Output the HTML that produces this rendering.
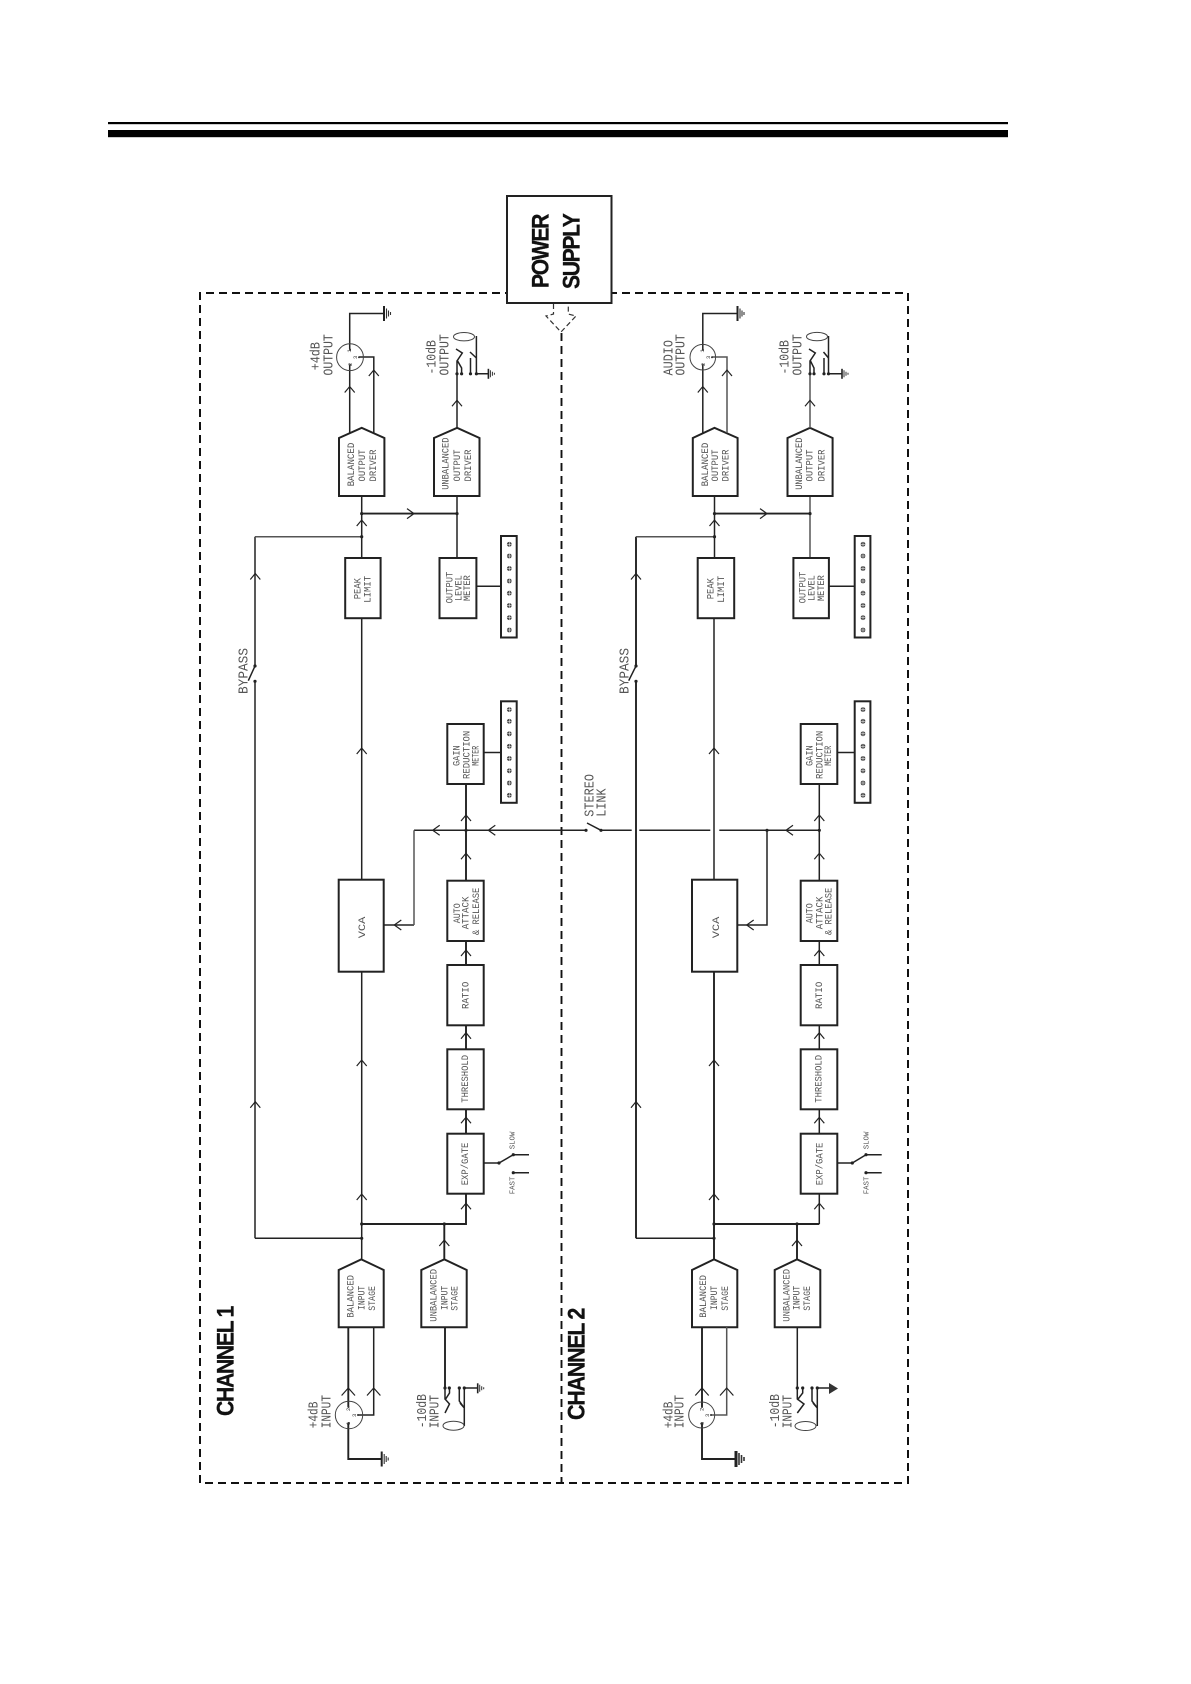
<!DOCTYPE html>
<html><head><meta charset="utf-8"><style>
html,body{margin:0;padding:0;background:#fff}
svg{display:block}
text{font-family:"Liberation Mono",monospace;fill:#555}
.b{font-family:"Liberation Sans",sans-serif;font-weight:bold;font-size:24px;fill:#111;stroke:#111;stroke-width:.3;letter-spacing:-1.5px}
.s{font-size:10.5px}.m{font-size:13.5px}.t{font-size:7px}.d{font-size:5.5px;fill:#333}
.l{fill:none;stroke:#222;stroke-width:1.5}
.q{fill:none;stroke:#555;stroke-width:1.5}
.k{fill:none;stroke:#222;stroke-width:1.9}
.h{fill:#fff;stroke:#222;stroke-width:2}
.a{fill:none;stroke:#222;stroke-width:1.2}
</style></head><body>
<svg width="1191" height="1684" viewBox="0 0 1191 1684" xmlns="http://www.w3.org/2000/svg">
<defs>
<path id="u" class="a" d="M-5 6L0 0L5 6"/>
<path id="U" class="a" d="M-6.7 7.5L0 0L6.7 7.5"/>
<path id="w" class="a" d="M7-5L0 0L7 5"/>
<path id="r" class="a" d="M-7-5L0 0L-7 5"/>
<circle id="p" r="1.6" fill="#222"/>
<circle id="e" r="1" fill="#333"/>
<g id="o"><circle r="2.4" fill="#444"/><path d="M-2.4 0H2.4M0-2.4V2.4" stroke="#fff" stroke-width=".5"/></g>
<g id="mt"><rect class="h" width="15.7" height="101.5"/>
<use href="#o" x="8.3" y="8.3"/><use href="#o" x="8.3" y="20"/><use href="#o" x="8.3" y="32.5"/><use href="#o" x="8.3" y="45"/><use href="#o" x="8.3" y="57.2"/><use href="#o" x="8.3" y="69.5"/><use href="#o" x="8.3" y="81.7"/><use href="#o" x="8.3" y="94"/></g>
<g id="gr"><path d="M0-7.5V7.5" stroke="#222" stroke-width="2"/><path d="M2.5-5V5M4.5-3V3M6.5-1.5V1.5" stroke="#333" stroke-width="1.1"/></g>
<g id="gs"><path d="M0-5V5" stroke="#222" stroke-width="1.6"/><path d="M2-3.5V3.5M4-2V2M6-1V1" stroke="#333" stroke-width="1"/></g>
</defs>

<rect x="108" y="122" width="900" height="2.2" fill="#000"/>
<rect x="108" y="130" width="900" height="7.2" fill="#000"/>

<!-- dashed frame -->
<path d="M200 1483V293H908V1483H200" fill="none" stroke="#111" stroke-width="2" stroke-dasharray="8 5"/>
<path d="M561.5 333V1483" fill="none" stroke="#111" stroke-width="1.9" stroke-dasharray="8 5"/>
<!-- power -->
<rect class="h" x="507" y="196" width="104.5" height="107"/>
<path d="M553.5 304V314L546 316L561 332L576 316L568.3 314V304" fill="none" stroke="#333" stroke-width="1.2" stroke-dasharray="5 3"/>
<text class="b" transform="translate(548.5,288) rotate(-90)" textLength="73" lengthAdjust="spacingAndGlyphs">POWER</text>
<text class="b" transform="translate(579.5,289) rotate(-90)" textLength="74.5" lengthAdjust="spacingAndGlyphs">SUPPLY</text>
<text class="b" transform="translate(233.3,1416) rotate(-90)" textLength="109" lengthAdjust="spacingAndGlyphs">CHANNEL 1</text>
<text class="b" transform="translate(584.3,1420) rotate(-90)" textLength="111" lengthAdjust="spacingAndGlyphs">CHANNEL 2</text>

<!-- ===== CHANNEL 1 lines ===== -->
<path class="l" d="M255 1238.3V681.3M255 666V536.7M361.7 1238.3H255"/>
<path class="q" d="M255 536.7H361.7"/>
<path class="l" d="M248.3 680.7L255 666"/>
<path class="l" d="M361.7 1259V971.7M361.7 879.7V618M361.7 558V496"/>
<path class="k" d="M361.7 513.6H457"/>
<path class="l" d="M457 558V496M476.4 586.2H501M483.7 752.5H501"/>
<path class="k" d="M466 784V880.7M466 941V965M466 1025V1049M466 1109V1134M466 1194V1224H361.7M444.3 1259V1224"/>
<path class="l" d="M414 830.3H586M601 830.3H631.7M639.3 830.3H710.3M719.3 830.3H819.3M383.7 925H414"/>
<path class="q" d="M414 925V830.3"/>
<path class="l" d="M601 830.3L587 823"/>
<!-- ch1 switches -->
<path class="l" d="M483.7 1163H499L513.3 1154.7H529M513.3 1172.7H529"/>
<use href="#p" x="499" y="1163"/><use href="#p" x="513.3" y="1154.7"/><use href="#p" x="513.3" y="1172.7"/>
<use href="#p" x="255" y="666"/><use href="#p" x="255" y="681.3"/>
<use href="#p" x="586" y="830.3"/><use href="#p" x="601" y="830.3"/>
<use href="#p" x="361.7" y="536.7"/><use href="#p" x="361.7" y="513.6"/><use href="#p" x="457" y="513.6"/>
<use href="#p" x="466" y="830.3"/><use href="#p" x="361.7" y="1224"/><use href="#p" x="361.7" y="1238.3"/><use href="#p" x="444.3" y="1224"/>
<!-- ch1 boxes -->
<rect class="h" x="338.7" y="879.7" width="45" height="92"/>
<rect class="h" x="345.2" y="558" width="35.4" height="60.2"/>
<rect class="h" x="439.5" y="558" width="36.9" height="60.2"/>
<rect class="h" x="447.3" y="724" width="36.4" height="60"/>
<rect class="h" x="447.3" y="880.7" width="36.4" height="60.3"/>
<rect class="h" x="447.3" y="965" width="36.4" height="60.3"/>
<rect class="h" x="447.3" y="1049.3" width="36.4" height="60"/>
<rect class="h" x="447.3" y="1133.7" width="36.4" height="60"/>
<path class="h" d="M339 496V438L361.7 427.8L384.4 438V496Z"/>
<path class="h" d="M434 496V438L457.1 427.8L479.5 438V496Z"/>
<path class="h" d="M338.7 1327.3V1270L361.3 1259.3L383.7 1270V1327.3Z"/>
<path class="h" d="M421.3 1327.3V1270L444.3 1259.3L466.7 1270V1327.3Z"/>
<use href="#mt" x="501" y="536"/><use href="#mt" x="501" y="701.3"/>
<!-- ch1 output connectors -->
<path class="l" d="M349.7 433V365M349.7 349V313.5H384M373.8 433V357H359"/>
<circle cx="350" cy="357.2" r="13.4" fill="none" stroke="#444" stroke-width="1"/>
<use href="#e" x="350" y="349.5"/><use href="#e" x="350" y="365"/><use href="#e" x="359" y="357.2"/>
<text class="d" transform="translate(351,352.5) rotate(-90)">1</text><text class="d" transform="translate(352,366) rotate(-90)">2</text><text class="d" transform="translate(357,359) rotate(-90)">3</text>
<use href="#gr" x="384" y="313.5"/>
<path class="l" d="M457 428V373.8M476.4 373.8V336M476.4 373.8H488.4"/>
<path class="l" d="M457 373.8V361L462.3 353L456 349M461.6 373.8V368L457 360M470.5 373.8V358M470 352L476.4 358"/>
<ellipse cx="464" cy="336.7" rx="10.5" ry="4.2" fill="none" stroke="#444" stroke-width="1"/>
<use href="#p" x="457" y="373.8"/><use href="#p" x="461.6" y="373.8"/><use href="#p" x="470.5" y="373.8"/><use href="#p" x="476.4" y="373.8"/>
<use href="#gs" x="488.4" y="373.8"/>
<!-- ch1 input connectors -->
<path class="k" d="M348.3 1327V1407M348.3 1423V1459H381.7"/>
<path class="l" d="M373.7 1327V1415H358"/>
<circle cx="349" cy="1415" r="13.7" fill="none" stroke="#444" stroke-width="1"/>
<use href="#e" x="348.5" y="1407"/><use href="#e" x="348.5" y="1423"/><use href="#e" x="358" y="1415"/>
<text class="d" transform="translate(350,1411) rotate(-90)">2</text><text class="d" transform="translate(356,1417) rotate(-90)">3</text><text class="d" transform="translate(350,1425) rotate(-90)">1</text>
<use href="#gr" x="381.7" y="1459"/>
<path class="k" d="M445 1327V1388"/>
<path class="l" d="M464.3 1388V1426M464.3 1388H477.7M445 1388V1399L449.5 1404L445 1413M449.5 1388V1393L445 1400M459.3 1388V1401L464.3 1408L460 1403"/>
<ellipse cx="453.5" cy="1425.7" rx="10.5" ry="4.5" fill="none" stroke="#444" stroke-width="1"/>
<use href="#p" x="445" y="1388"/><use href="#p" x="449.3" y="1388"/><use href="#p" x="459.3" y="1388"/><use href="#p" x="464.3" y="1388"/>
<use href="#gs" x="477.7" y="1388.3"/>
<!-- ch1 arrows -->
<use href="#u" x="255.3" y="573.5"/><use href="#u" x="255.3" y="1101.7"/>
<use href="#u" x="361.7" y="520"/><use href="#u" x="361.7" y="748"/><use href="#u" x="361.7" y="1060"/><use href="#u" x="361.7" y="1194"/>
<use href="#u" x="466" y="815"/><use href="#u" x="466" y="853.3"/><use href="#u" x="466" y="950"/><use href="#u" x="466" y="1032.7"/><use href="#u" x="466" y="1117.3"/><use href="#u" x="466" y="1203.3"/>
<use href="#u" x="444.3" y="1240"/>
<use href="#w" x="432.7" y="830.3"/><use href="#w" x="488.3" y="830.3"/><use href="#w" x="394.3" y="925"/>
<use href="#r" x="414" y="513.6"/>
<use href="#u" x="349.7" y="386.5"/><use href="#u" x="373.8" y="370"/><use href="#u" x="457" y="400.3"/>
<use href="#U" x="348.3" y="1388"/><use href="#U" x="373.7" y="1388"/>

<!-- ===== CHANNEL 2 lines ===== -->
<path class="k" d="M636 1238.3V681.3M636 666V536.7M714 1259V971.7"/>
<path class="q" d="M636 536.7H714.5"/>
<path class="l" d="M628.7 680.7L636 666"/>
<path class="l" d="M714 879.7V618M714.5 558V496"/>
<path class="k" d="M714.5 513.6H810"/>
<path class="q" d="M810 558V496"/>
<path class="l" d="M828.9 586.2H854.7M837.3 752.5H854.7"/>
<path class="l" d="M819.3 784V880.7M819.3 941V965M819.3 1025V1049M819.3 1109V1134M819.3 1194V1224"/>
<path class="k" d="M714 1224H819.3M797 1259V1224"/>
<path class="l" d="M714 1238.3H636"/>
<path class="l" d="M767 830.3V925H737.3"/>
<path class="l" d="M837.3 1163H852.3L866 1154.7H881.7M866 1172.7H881.7"/>
<use href="#p" x="852.3" y="1163"/><use href="#p" x="866" y="1154.7"/><use href="#p" x="866" y="1172.7"/>
<use href="#p" x="636" y="666"/><use href="#p" x="636" y="681.3"/>
<use href="#p" x="714.5" y="536.7"/><use href="#p" x="714.5" y="513.6"/><use href="#p" x="810" y="513.6"/>
<use href="#p" x="767" y="830.3"/><use href="#p" x="819.3" y="830.3"/><use href="#p" x="714" y="1224"/><use href="#p" x="714" y="1238.3"/><use href="#p" x="797" y="1224"/>
<rect class="h" x="692" y="879.7" width="45.3" height="92"/>
<rect class="h" x="697.7" y="558" width="36.5" height="60.2"/>
<rect class="h" x="793.4" y="558" width="35.5" height="60.2" stroke-width="1.6"/>
<rect class="h" x="800.7" y="724" width="36.6" height="60"/>
<rect class="h" x="800.7" y="880.7" width="36.6" height="60.3"/>
<rect class="h" x="800.7" y="965" width="36.6" height="60.3"/>
<rect class="h" x="800.7" y="1049.3" width="36.6" height="60"/>
<rect class="h" x="800.7" y="1133.7" width="36.6" height="60"/>
<path class="h" d="M692.8 496V438L714.5 427.8L737.6 438V496Z"/>
<path class="h" d="M787.5 496V438L810 427.8L832.6 438V496Z"/>
<path class="h" d="M692 1327.3V1270L714 1259.3L737.3 1270V1327.3Z"/>
<path class="h" d="M774.7 1327.3V1270L797 1259.3L820.3 1270V1327.3Z"/>
<use href="#mt" x="854.7" y="536"/><use href="#mt" x="854.7" y="701.3"/>
<path class="l" d="M702.8 433V365M702.8 349V313.5H737"/>
<path class="q" d="M727 433V357H712"/>
<circle cx="702.8" cy="357.2" r="12.8" fill="none" stroke="#444" stroke-width="1"/>
<use href="#e" x="702.8" y="349.5"/><use href="#e" x="702.8" y="365"/><use href="#e" x="712" y="357.2"/>
<text class="d" transform="translate(704,352.5) rotate(-90)">1</text><text class="d" transform="translate(705,366) rotate(-90)">2</text><text class="d" transform="translate(710,359) rotate(-90)">3</text>
<use href="#gr" x="737.5" y="313.5"/>
<path class="q" d="M810 428V373.8"/>
<path class="l" d="M828.5 373.8V336M828.5 373.8H842"/>
<path class="l" d="M810 373.8V361L815.3 353L809 349M814 373.8V368L810 360M824 373.8V358M823.5 352L828.5 358"/>
<ellipse cx="817" cy="336.6" rx="10.5" ry="4.2" fill="none" stroke="#444" stroke-width="1"/>
<use href="#p" x="810" y="373.8"/><use href="#p" x="814" y="373.8"/><use href="#p" x="824" y="373.8"/><use href="#p" x="828.5" y="373.8"/>
<use href="#gs" x="842" y="373.8"/>
<path class="k" d="M702 1327V1407M702 1423V1459H736"/>
<path class="q" d="M726.7 1327V1415H711"/>
<circle cx="701.7" cy="1415" r="13" fill="none" stroke="#444" stroke-width="1"/>
<use href="#e" x="702" y="1407"/><use href="#e" x="702" y="1423"/><use href="#e" x="711" y="1415"/>
<text class="d" transform="translate(703.5,1411) rotate(-90)">2</text><text class="d" transform="translate(709,1417) rotate(-90)">3</text><text class="d" transform="translate(703.5,1425) rotate(-90)">1</text>
<path class="l" d="M797.3 1327V1388M817.3 1388V1426M817.3 1388H829M797.3 1388V1399L804 1404L797.3 1413M802.7 1388V1393L797.3 1400M812 1388V1401L817.3 1408L813 1403"/>
<ellipse cx="805.5" cy="1426" rx="10.5" ry="4.5" fill="none" stroke="#444" stroke-width="1"/>
<use href="#p" x="797.3" y="1388"/><use href="#p" x="802.7" y="1388"/><use href="#p" x="812" y="1388"/><use href="#p" x="817.3" y="1388"/>
<path d="M829 1383V1394L838 1388.5Z" fill="#333"/>
<path d="M736 1451V1467" stroke="#222" stroke-width="3"/><path d="M739 1453V1465M741.5 1455V1463M744 1457V1461" stroke="#333" stroke-width="1.6"/>
<use href="#u" x="636" y="573.5"/><use href="#u" x="636" y="1101.7"/>
<use href="#u" x="714.5" y="520"/><use href="#u" x="714" y="748"/><use href="#u" x="714" y="1060"/><use href="#u" x="714" y="1194"/>
<use href="#u" x="819.3" y="815"/><use href="#u" x="819.3" y="853.3"/><use href="#u" x="819.3" y="950"/><use href="#u" x="819.3" y="1032.7"/><use href="#u" x="819.3" y="1117.3"/><use href="#u" x="819.3" y="1203.3"/>
<use href="#u" x="797" y="1240"/>
<use href="#w" x="786" y="830.3"/><use href="#w" x="746.7" y="925"/>
<use href="#r" x="767" y="513.6"/>
<use href="#u" x="702.8" y="386.5"/><use href="#u" x="727" y="370"/><use href="#u" x="810" y="400.3"/>
<use href="#U" x="702" y="1388"/><use href="#U" x="726.7" y="1388"/>

<!-- ===== text ch1 ===== -->
<text class="s" transform="translate(354.1,486.4) rotate(-90)" textLength="43.7" lengthAdjust="spacingAndGlyphs">BALANCED</text>
<text class="s" transform="translate(364.8,481.5) rotate(-90)" textLength="32" lengthAdjust="spacingAndGlyphs">OUTPUT</text>
<text class="s" transform="translate(375.8,481.5) rotate(-90)" textLength="32" lengthAdjust="spacingAndGlyphs">DRIVER</text>
<text class="s" transform="translate(448.5,489.8) rotate(-90)" textLength="52.3" lengthAdjust="spacingAndGlyphs">UNBALANCED</text>
<text class="s" transform="translate(459.9,481.5) rotate(-90)" textLength="32" lengthAdjust="spacingAndGlyphs">OUTPUT</text>
<text class="s" transform="translate(470.9,481.5) rotate(-90)" textLength="32" lengthAdjust="spacingAndGlyphs">DRIVER</text>
<text class="s" transform="translate(360.7,599.3) rotate(-90)" textLength="21.3" lengthAdjust="spacingAndGlyphs">PEAK</text>
<text class="s" transform="translate(370.3,602.8) rotate(-90)" textLength="26.9" lengthAdjust="spacingAndGlyphs">LIMIT</text>
<text class="s" transform="translate(452.3,603.4) rotate(-90)" textLength="31.7" lengthAdjust="spacingAndGlyphs">OUTPUT</text>
<text class="s" transform="translate(461.6,601) rotate(-90)" textLength="25.8" lengthAdjust="spacingAndGlyphs">LEVEL</text>
<text class="s" transform="translate(470.2,601) rotate(-90)" textLength="25.8" lengthAdjust="spacingAndGlyphs">METER</text>
<text class="m" transform="translate(319.4,370.3) rotate(-90)" textLength="28.2" lengthAdjust="spacingAndGlyphs">+4dB</text>
<text class="m" transform="translate(332.4,375.5) rotate(-90)" textLength="41.3" lengthAdjust="spacingAndGlyphs">OUTPUT</text>
<text class="m" transform="translate(435.7,374.5) rotate(-90)" textLength="34.4" lengthAdjust="spacingAndGlyphs">-10dB</text>
<text class="m" transform="translate(448.5,375.5) rotate(-90)" textLength="41.3" lengthAdjust="spacingAndGlyphs">OUTPUT</text>
<text class="m" transform="translate(247.7,694) rotate(-90)" textLength="46" lengthAdjust="spacingAndGlyphs">BYPASS</text>
<text class="s" transform="translate(365,938.3) rotate(-90)" textLength="21.7" lengthAdjust="spacingAndGlyphs">VCA</text>
<text class="s" transform="translate(459.3,766) rotate(-90)" textLength="20.7" lengthAdjust="spacingAndGlyphs">GAIN</text>
<text class="s" transform="translate(469.3,779) rotate(-90)" textLength="48.3" lengthAdjust="spacingAndGlyphs">REDUCTION</text>
<text class="s" transform="translate(478.7,765.7) rotate(-90)" textLength="20" lengthAdjust="spacingAndGlyphs">METER</text>
<text class="s" transform="translate(460,923.3) rotate(-90)" textLength="20" lengthAdjust="spacingAndGlyphs">AUTO</text>
<text class="s" transform="translate(468.7,929.3) rotate(-90)" textLength="32.7" lengthAdjust="spacingAndGlyphs">ATTACK</text>
<text class="s" transform="translate(479,935) rotate(-90)" textLength="47.3" lengthAdjust="spacingAndGlyphs">&amp; RELEASE</text>
<text class="s" transform="translate(468.7,1009) rotate(-90)" textLength="27.3" lengthAdjust="spacingAndGlyphs">RATIO</text>
<text class="s" transform="translate(468,1102.7) rotate(-90)" textLength="47.7" lengthAdjust="spacingAndGlyphs">THRESHOLD</text>
<text class="s" transform="translate(468,1185.3) rotate(-90)" textLength="42.7" lengthAdjust="spacingAndGlyphs">EXP/GATE</text>
<text class="s" transform="translate(353.3,1317.7) rotate(-90)" textLength="42.7" lengthAdjust="spacingAndGlyphs">BALANCED</text>
<text class="s" transform="translate(364.3,1310) rotate(-90)" textLength="24.3" lengthAdjust="spacingAndGlyphs">INPUT</text>
<text class="s" transform="translate(375,1310.7) rotate(-90)" textLength="24.7" lengthAdjust="spacingAndGlyphs">STAGE</text>
<text class="s" transform="translate(436.7,1321.7) rotate(-90)" textLength="52.7" lengthAdjust="spacingAndGlyphs">UNBALANCED</text>
<text class="s" transform="translate(447.7,1310) rotate(-90)" textLength="24.3" lengthAdjust="spacingAndGlyphs">INPUT</text>
<text class="s" transform="translate(457.7,1310.7) rotate(-90)" textLength="24.7" lengthAdjust="spacingAndGlyphs">STAGE</text>
<text class="m" transform="translate(317.7,1428.3) rotate(-90)" textLength="26.7" lengthAdjust="spacingAndGlyphs">+4dB</text>
<text class="m" transform="translate(330.7,1428.3) rotate(-90)" textLength="33.3" lengthAdjust="spacingAndGlyphs">INPUT</text>
<text class="m" transform="translate(426,1428.3) rotate(-90)" textLength="34.3" lengthAdjust="spacingAndGlyphs">-10dB</text>
<text class="m" transform="translate(438.3,1428.3) rotate(-90)" textLength="33.3" lengthAdjust="spacingAndGlyphs">INPUT</text>
<text class="t" transform="translate(514.3,1194.3) rotate(-90)" textLength="17.7" lengthAdjust="spacingAndGlyphs">FAST</text>
<text class="t" transform="translate(514.3,1149.3) rotate(-90)" textLength="17.7" lengthAdjust="spacingAndGlyphs">SLOW</text>
<text class="m" transform="translate(593.3,816.7) rotate(-90)" textLength="42.7" lengthAdjust="spacingAndGlyphs">STEREO</text>
<text class="m" transform="translate(605.7,816.7) rotate(-90)" textLength="28.3" lengthAdjust="spacingAndGlyphs">LINK</text>

<!-- ===== text ch2 ===== -->
<text class="s" transform="translate(708,486.4) rotate(-90)" textLength="43.7" lengthAdjust="spacingAndGlyphs">BALANCED</text>
<text class="s" transform="translate(718,481.5) rotate(-90)" textLength="32" lengthAdjust="spacingAndGlyphs">OUTPUT</text>
<text class="s" transform="translate(728.7,481.5) rotate(-90)" textLength="32" lengthAdjust="spacingAndGlyphs">DRIVER</text>
<text class="s" transform="translate(802,489.8) rotate(-90)" textLength="52.3" lengthAdjust="spacingAndGlyphs">UNBALANCED</text>
<text class="s" transform="translate(812.7,481.5) rotate(-90)" textLength="32" lengthAdjust="spacingAndGlyphs">OUTPUT</text>
<text class="s" transform="translate(824.4,481.5) rotate(-90)" textLength="32" lengthAdjust="spacingAndGlyphs">DRIVER</text>
<text class="s" transform="translate(713.5,599.3) rotate(-90)" textLength="21.3" lengthAdjust="spacingAndGlyphs">PEAK</text>
<text class="s" transform="translate(723.8,602.8) rotate(-90)" textLength="26.9" lengthAdjust="spacingAndGlyphs">LIMIT</text>
<text class="s" transform="translate(805.4,603.4) rotate(-90)" textLength="31.7" lengthAdjust="spacingAndGlyphs">OUTPUT</text>
<text class="s" transform="translate(814.4,601) rotate(-90)" textLength="25.8" lengthAdjust="spacingAndGlyphs">LEVEL</text>
<text class="s" transform="translate(824,601) rotate(-90)" textLength="25.8" lengthAdjust="spacingAndGlyphs">METER</text>
<text class="m" transform="translate(672.5,375.5) rotate(-90)" textLength="35.5" lengthAdjust="spacingAndGlyphs">AUDIO</text>
<text class="m" transform="translate(684.6,375.5) rotate(-90)" textLength="41.3" lengthAdjust="spacingAndGlyphs">OUTPUT</text>
<text class="m" transform="translate(788.6,374.5) rotate(-90)" textLength="34.4" lengthAdjust="spacingAndGlyphs">-10dB</text>
<text class="m" transform="translate(801.3,375.5) rotate(-90)" textLength="41.3" lengthAdjust="spacingAndGlyphs">OUTPUT</text>
<text class="m" transform="translate(628.3,694) rotate(-90)" textLength="46" lengthAdjust="spacingAndGlyphs">BYPASS</text>
<text class="s" transform="translate(719,938.3) rotate(-90)" textLength="21.7" lengthAdjust="spacingAndGlyphs">VCA</text>
<text class="s" transform="translate(812.7,766) rotate(-90)" textLength="20.7" lengthAdjust="spacingAndGlyphs">GAIN</text>
<text class="s" transform="translate(822.3,779) rotate(-90)" textLength="48.3" lengthAdjust="spacingAndGlyphs">REDUCTION</text>
<text class="s" transform="translate(831,765.7) rotate(-90)" textLength="20" lengthAdjust="spacingAndGlyphs">METER</text>
<text class="s" transform="translate(812.7,923.3) rotate(-90)" textLength="20" lengthAdjust="spacingAndGlyphs">AUTO</text>
<text class="s" transform="translate(822.3,929.3) rotate(-90)" textLength="32.7" lengthAdjust="spacingAndGlyphs">ATTACK</text>
<text class="s" transform="translate(831.7,935) rotate(-90)" textLength="47.3" lengthAdjust="spacingAndGlyphs">&amp; RELEASE</text>
<text class="s" transform="translate(822,1009) rotate(-90)" textLength="27.3" lengthAdjust="spacingAndGlyphs">RATIO</text>
<text class="s" transform="translate(821.7,1102.7) rotate(-90)" textLength="47.7" lengthAdjust="spacingAndGlyphs">THRESHOLD</text>
<text class="s" transform="translate(822.3,1185.3) rotate(-90)" textLength="42.7" lengthAdjust="spacingAndGlyphs">EXP/GATE</text>
<text class="s" transform="translate(706,1317.7) rotate(-90)" textLength="42.7" lengthAdjust="spacingAndGlyphs">BALANCED</text>
<text class="s" transform="translate(717,1310) rotate(-90)" textLength="24.3" lengthAdjust="spacingAndGlyphs">INPUT</text>
<text class="s" transform="translate(728,1310.7) rotate(-90)" textLength="24.7" lengthAdjust="spacingAndGlyphs">STAGE</text>
<text class="s" transform="translate(789.3,1321.7) rotate(-90)" textLength="52.7" lengthAdjust="spacingAndGlyphs">UNBALANCED</text>
<text class="s" transform="translate(799.3,1310) rotate(-90)" textLength="24.3" lengthAdjust="spacingAndGlyphs">INPUT</text>
<text class="s" transform="translate(810,1310.7) rotate(-90)" textLength="24.7" lengthAdjust="spacingAndGlyphs">STAGE</text>
<text class="m" transform="translate(672.3,1428.3) rotate(-90)" textLength="26.7" lengthAdjust="spacingAndGlyphs">+4dB</text>
<text class="m" transform="translate(683.7,1428.3) rotate(-90)" textLength="33.3" lengthAdjust="spacingAndGlyphs">INPUT</text>
<text class="m" transform="translate(779,1428.3) rotate(-90)" textLength="34.3" lengthAdjust="spacingAndGlyphs">-10dB</text>
<text class="m" transform="translate(791.7,1428.3) rotate(-90)" textLength="33.3" lengthAdjust="spacingAndGlyphs">INPUT</text>
<text class="t" transform="translate(868.3,1194.3) rotate(-90)" textLength="17.7" lengthAdjust="spacingAndGlyphs">FAST</text>
<text class="t" transform="translate(868.3,1149.3) rotate(-90)" textLength="17.7" lengthAdjust="spacingAndGlyphs">SLOW</text>
</svg>
</body></html>
